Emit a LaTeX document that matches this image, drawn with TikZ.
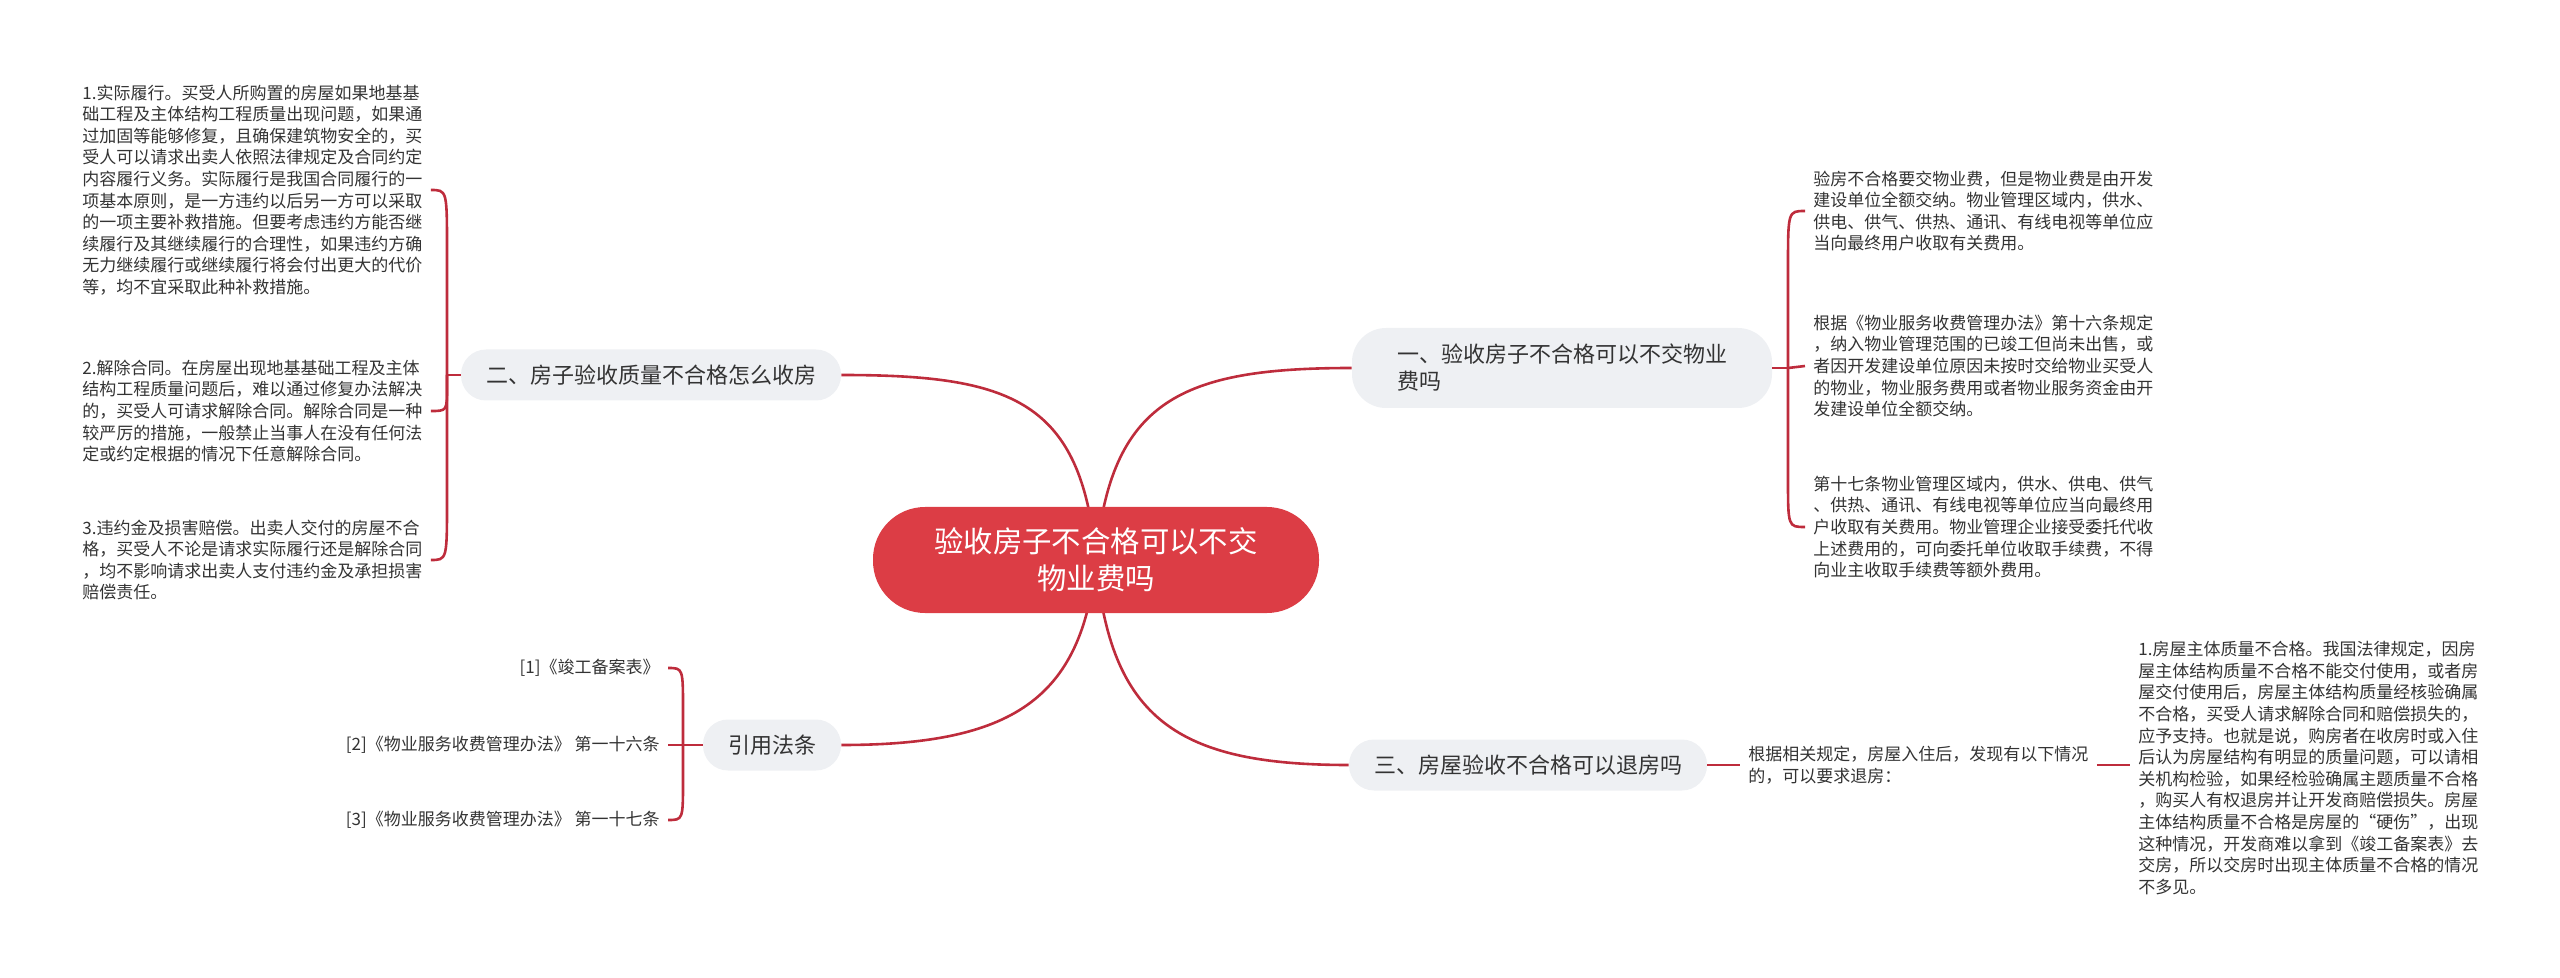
\documentclass[tikz,border=0pt]{standalone}
\usepackage{fontspec}
\setmainfont{Noto Sans CJK SC}
\usepackage{xcolor}
\usepackage{tikz}
\usetikzlibrary{backgrounds}

\definecolor{mapred}{HTML}{DC3D45}
\definecolor{linkred}{HTML}{BE2C3C}
\definecolor{topicgray}{HTML}{EEF0F3}
\definecolor{txtgray}{HTML}{333333}

\begin{document}
\begin{tikzpicture}[x=0.5pt, y=-0.5pt,
    root/.style={fill=mapred, text=white, rounded corners=26pt, minimum width=223pt, minimum height=53pt, align=center, font=\fontsize{14.7pt}{18.5pt}\selectfont},
    topic/.style={fill=topicgray, text=txtgray, rounded corners=12.5pt, minimum height=25.5pt, inner xsep=12.5pt, font=\fontsize{11pt}{13.5pt}\selectfont},
    note/.style={text=txtgray, align=left, inner sep=4pt, font=\fontsize{8.5pt}{10.8pt}\selectfont},
    link/.style={draw=linkred, line width=1.3pt}]
    \useasboundingbox (0,0) rectangle (2560,978);

    % centre and main topics
    \node[root] (ctr) at (1096,560) {验收房子不合格可以不交\\物业费吗};
    \node[topic, align=left, minimum width=210pt, minimum height=40pt, rounded corners=17pt] (b1) at (1562,368) {一、验收房子不合格可以不交物业\\费吗};
    \node[topic] (b2) at (651,375) {二、房子验收质量不合格怎么收房};
    \node[topic] (b3) at (1528,765) {三、房屋验收不合格可以退房吗};
    \node[topic] (b4) at (772,745) {引用法条};

    % notes of topic 1
    \node[note, anchor=west] (n1) at (1805,211) {验房不合格要交物业费，但是物业费是由开发\\建设单位全额交纳。物业管理区域内，供水、\\供电、供气、供热、通讯、有线电视等单位应\\当向最终用户收取有关费用。};
    \node[note, anchor=west] (n2) at (1805,366) {根据《物业服务收费管理办法》第十六条规定\\，纳入物业管理范围的已竣工但尚未出售，或\\者因开发建设单位原因未按时交给物业买受人\\的物业，物业服务费用或者物业服务资金由开\\发建设单位全额交纳。};
    \node[note, anchor=west] (n3) at (1805,527) {第十七条物业管理区域内，供水、供电、供气\\、供热、通讯、有线电视等单位应当向最终用\\户收取有关费用。物业管理企业接受委托代收\\上述费用的，可向委托单位收取手续费，不得\\向业主收取手续费等额外费用。};

    % notes of topic 2
    \node[note, anchor=west] (l1) at (74,190) {1.实际履行。买受人所购置的房屋如果地基基\\础工程及主体结构工程质量出现问题，如果通\\过加固等能够修复，且确保建筑物安全的，买\\受人可以请求出卖人依照法律规定及合同约定\\内容履行义务。实际履行是我国合同履行的一\\项基本原则，是一方违约以后另一方可以采取\\的一项主要补救措施。但要考虑违约方能否继\\续履行及其继续履行的合理性，如果违约方确\\无力继续履行或继续履行将会付出更大的代价\\等，均不宜采取此种补救措施。};
    \node[note, anchor=west] (l2) at (74,411) {2.解除合同。在房屋出现地基基础工程及主体\\结构工程质量问题后，难以通过修复办法解决\\的，买受人可请求解除合同。解除合同是一种\\较严厉的措施，一般禁止当事人在没有任何法\\定或约定根据的情况下任意解除合同。};
    \node[note, anchor=west] (l3) at (74,560) {3.违约金及损害赔偿。出卖人交付的房屋不合\\格，买受人不论是请求实际履行还是解除合同\\，均不影响请求出卖人支付违约金及承担损害\\赔偿责任。};

    % notes of topic 3
    \node[note, anchor=west] (b3t) at (1740,765) {根据相关规定，房屋入住后，发现有以下情况\\的，可以要求退房：};
    \node[note, anchor=west] (d1) at (2130,768) {1.房屋主体质量不合格。我国法律规定，因房\\屋主体结构质量不合格不能交付使用，或者房\\屋交付使用后，房屋主体结构质量经核验确属\\不合格，买受人请求解除合同和赔偿损失的，\\应予支持。也就是说，购房者在收房时或入住\\后认为房屋结构有明显的质量问题，可以请相\\关机构检验，如果经检验确属主题质量不合格\\，购买人有权退房并让开发商赔偿损失。房屋\\主体结构质量不合格是房屋的“硬伤”，出现\\这种情况，开发商难以拿到《竣工备案表》去\\交房，所以交房时出现主体质量不合格的情况\\不多见。};

    % references
    \node[note, anchor=east] (f1) at (668,668) {[1]《竣工备案表》};
    \node[note, anchor=east] (f2) at (668,745) {[2]《物业服务收费管理办法》 第一十六条};
    \node[note, anchor=east] (f3) at (668,820) {[3]《物业服务收费管理办法》 第一十七条};

    \coordinate (j1) at (1788,368);
    \coordinate (j2) at (447,375);
    \coordinate (j4) at (683,745);

    \begin{scope}[on background layer]
        \draw[link] (ctr.center) .. controls +(14,-160) and +(-170,0) .. (b1.west);
        \draw[link] (ctr.center) .. controls +(-14,-160) and +(170,0) .. (b2.east);
        \draw[link] (ctr.center) .. controls +(14,160) and +(-170,0) .. (b3.west);
        \draw[link] (ctr.center) .. controls +(-14,140) and +(170,0) .. (b4.east);
    \end{scope}

    % brackets
    \draw[link] (b1.east) -- (j1);
    \draw[link] (j1) -- ++(0,-100) .. controls (j1 |- n1.west) .. (n1.west);
    \draw[link] (j1) -- (n2.west);
    \draw[link] (j1) -- ++(0,110) .. controls (j1 |- n3.west) .. (n3.west);

    \draw[link] (b2.west) -- (j2);
    \draw[link] (j2) -- ++(0,-125) .. controls (j2 |- l1.east) .. (l1.east);
    \draw[link] (j2) -- ++(0,12) .. controls (j2 |- l2.east) .. (l2.east);
    \draw[link] (j2) -- ++(0,125) .. controls (j2 |- l3.east) .. (l3.east);

    \draw[link] (b3.east) -- (b3t.west);
    \draw[link] (b3t.east) -- (b3t.east -| d1.west);

    \draw[link] (b4.west) -- (j4);
    \draw[link] (j4) -- ++(0,-35) .. controls (j4 |- f1.east) .. (f1.east);
    \draw[link] (j4) -- (f2.east);
    \draw[link] (j4) -- ++(0,35) .. controls (j4 |- f3.east) .. (f3.east);
\end{tikzpicture}
\end{document}
